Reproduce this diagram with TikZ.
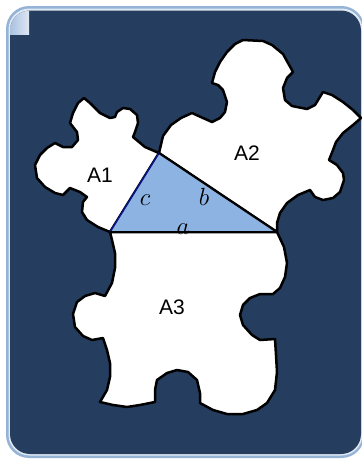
\documentclass[tikz,border=0pt]{standalone}
\usepackage{fontspec}
\setmainfont{Liberation Sans}
\definecolor{paneldark}{RGB}{37,61,94}
\definecolor{panelborder}{RGB}{149,179,215}
\definecolor{panelinner}{RGB}{225,233,244}
\definecolor{triblue}{RGB}{141,179,226}
\definecolor{edgenavy}{RGB}{10,20,130}
\definecolor{curlA}{RGB}{170,193,224}
\definecolor{curlB}{RGB}{222,231,243}
\begin{document}
\begin{tikzpicture}[x=1pt,y=-1pt,
  piece/.style={fill=white,draw=black,line width=2.5pt,line join=round},
  lbl/.style={font=\fontsize{21}{24}\selectfont,inner sep=0pt},
  sidelbl/.style={font=\fontsize{24}{28}\selectfont,inner sep=0pt,anchor=base}]
\useasboundingbox (0,0) rectangle (362,459);
% panel
\fill[panelborder,rounded corners=23pt] (6,6) rectangle (364.5,458);
\fill[panelinner,rounded corners=21pt] (8.5,8.5) rectangle (362.5,455.5);
\fill[paneldark,rounded corners=20pt] (10,10.5) rectangle (361,454);
% page curl
\begin{scope}
  \clip[rounded corners=20pt] (10,10.5) rectangle (361,454);
  \shade[shading angle=135,left color=curlA,right color=curlB] (10,10.5) rectangle (29,34);
\end{scope}
% triangle vertices
\coordinate (B) at (110,232);
\coordinate (C) at (159,153);
\coordinate (R) at (277,232);
% A1
\draw[piece] (C) -- (145,147) -- (133,137) -- (135,132) -- (138,123) -- (137,115) -- (130,109) -- (123,108) -- (117,112) -- (115,117) -- (110,118) -- (100,113) -- (90,103) -- (84,98) -- (78,103) -- (73,113) -- (70,123) -- (77,132) -- (78,140) -- (72,147) -- (63,147) -- (55,143) -- (47,148) -- (40,155) -- (35,165) -- (37,178) -- (45,187) -- (55,193) -- (63,195) -- (70,188) -- (80,192) -- (87,197) -- (83,202) -- (82,212) -- (87,220) -- (98,227) -- (B) -- cycle;
% A2
\draw[piece] (C) -- (163,136) -- (171,125) -- (181,118) -- (192,113) -- (203,118) -- (212,122) -- (220,118) -- (225,112) -- (227,102) -- (223,90) -- (218,85) -- (212,83) -- (215,72) -- (220,62) -- (227,52) -- (235,44) -- (243,40) -- (263,41) -- (272,45) -- (283,54) -- (288,63) -- (293,72) -- (287,78) -- (283,88) -- (285,100) -- (292,106) -- (307,109) -- (315,105) -- (323,92) -- (332,95) -- (343,102) -- (353,110) -- (361,118) -- (353,125) -- (343,133) -- (336,142) -- (333,150) -- (329,160) -- (337,165) -- (343,173) -- (344,180) -- (340,192) -- (333,198) -- (323,200) -- (315,197) -- (310,190) -- (298,195) -- (287,203) -- (280,213) -- (277,223) -- (R) -- cycle;
% A3
\draw[piece] (B) -- (112,240) -- (115,253) -- (115,268) -- (112,283) -- (105,296) -- (95,293) -- (85,296) -- (77,302) -- (73,314) -- (75,327) -- (83,336) -- (92,340) -- (103,338) -- (107,350) -- (110,363) -- (110,377) -- (107,390) -- (100,402) -- (113,405) -- (127,407) -- (140,405) -- (155,402) -- (155,390) -- (157,380) -- (167,373) -- (177,370) -- (188,372) -- (197,380) -- (200,393) -- (200,403) -- (213,410) -- (227,414) -- (243,414) -- (257,410) -- (267,403) -- (275,390) -- (277,372) -- (276,355) -- (275,339) -- (260,340) -- (252,335) -- (243,325) -- (240,315) -- (243,305) -- (250,298) -- (260,294) -- (273,294) -- (280,288) -- (285,277) -- (287,263) -- (284,247) -- (R) -- cycle;
% triangle
\fill[triblue] (B) -- (C) -- (R) -- cycle;
\draw[edgenavy,line width=1.6pt,line cap=round] (B) -- (C);
\draw[black,line width=2.1pt,line join=round] (C) -- (R);
% labels
\node[lbl] (l1) at (100,175) {A1};
\node[lbl] (l2) at (247,153) {A2};
\node[lbl] (l3) at (172,307) {A3};
\node[sidelbl] (lc) at (145,205) {$c$};
\node[sidelbl] (lb) at (204,205) {$b$};
\node[sidelbl] (la) at (183,234) {$a$};
\draw[black,line width=2.3pt] (B) -- (R);
\end{tikzpicture}
\end{document}
